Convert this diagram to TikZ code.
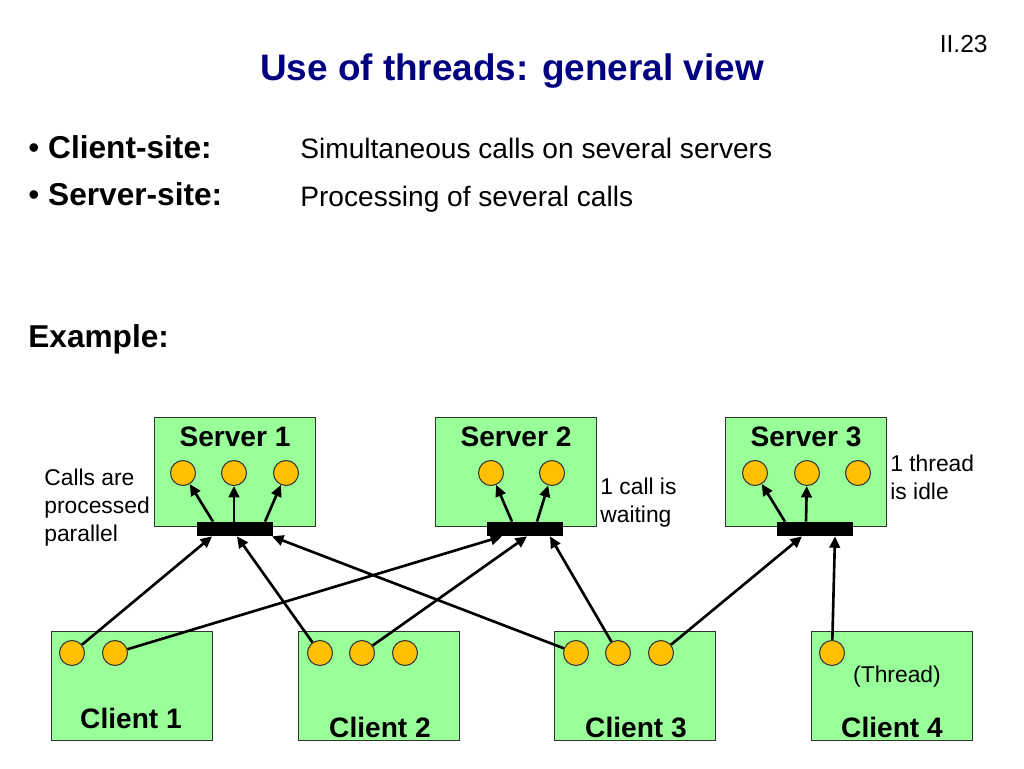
\documentclass[tikz,border=0pt]{standalone}
\usepackage{fontspec}
\setmainfont{Liberation Sans}
\usetikzlibrary{arrows.meta}
\definecolor{boxgreen}{RGB}{153,255,153}
\definecolor{threadgold}{RGB}{255,192,0}
\definecolor{titleblue}{RGB}{0,0,128}
\tikzset{
  box/.style={draw=black!80, fill=boxgreen, line width=0.6pt, minimum width=3.22cm, minimum height=2.18cm, inner sep=0},
  thread/.style={circle, draw=black!80, fill=threadgold, line width=0.6pt, minimum size=0.5cm, inner sep=0},
  bar/.style={fill=black, minimum width=1.52cm, minimum height=0.28cm, inner sep=0},
  call/.style={line width=1.5pt, -{Triangle[length=6.5pt,width=6pt]}},
  boxname/.style={font=\fontsize{16}{19}\selectfont\bfseries},
  note/.style={font=\fontsize{13}{15.9}\selectfont, align=left, anchor=west, inner sep=0},
}
\begin{document}
\begin{tikzpicture}[x=0.02cm, y=-0.02cm]
\useasboundingbox (0,0) rectangle (1024,768);
% header
\node[anchor=base, text=titleblue, font=\fontsize{21}{25}\selectfont\bfseries] (title) at (512,80) {Use of threads: general view};
\node[anchor=base east, inner sep=0, font=\fontsize{14}{17}\selectfont] (page) at (988,52) {II.23};
\node[anchor=base west, inner sep=0, font=\fontsize{18}{22}\selectfont\bfseries] (csite) at (28,158) {{\mdseries •}~Client-site:};
\node[anchor=base west, inner sep=0, font=\fontsize{18}{22}\selectfont\bfseries] (ssite) at (28,205) {{\mdseries •}~Server-site:};
\node[anchor=base west, inner sep=0, font=\fontsize{16}{19}\selectfont] (ctext) at (300,158) {Simultaneous calls on several servers};
\node[anchor=base west, inner sep=0, font=\fontsize{16}{19}\selectfont] (stext) at (300,206) {Processing of several calls};
\node[anchor=base west, inner sep=0, font=\fontsize{18}{22}\selectfont\bfseries] (example) at (28,347) {Example:};

% servers
\node[box] (s1) at (235,472) {};
\node[boxname] (s1n) at (235,437) {Server 1};
\node[thread] (s1a) at (183,473) {};
\node[thread] (s1b) at (234,473) {};
\node[thread] (s1c) at (286,473) {};
\node[bar] (bar1) at (235,529) {};
\draw[call] ([xshift=-0.44cm]bar1.north) -- (s1a);
\draw[call] ([xshift=-0.02cm]bar1.north) -- (s1b);
\draw[call] ([xshift=0.6cm]bar1.north) -- (s1c);

\node[box] (s2) at (516,472) {};
\node[boxname] (s2n) at (516,437) {Server 2};
\node[thread] (s2a) at (491,473) {};
\node[thread] (s2b) at (552,473) {};
\node[bar] (bar2) at (525,529) {};
\draw[call] ([xshift=-0.26cm]bar2.north) -- (s2a);
\draw[call] ([xshift=0.24cm]bar2.north) -- (s2b);

\node[box] (s3) at (806,472) {};
\node[boxname] (s3n) at (806,437) {Server 3};
\node[thread] (s3a) at (755,473) {};
\node[thread] (s3b) at (807,473) {};
\node[thread] (s3c) at (858,473) {};
\node[bar] (bar3) at (815,529) {};
\draw[call] ([xshift=-0.6cm]bar3.north) -- (s3a);
\draw[call] ([xshift=-0.18cm]bar3.north) -- (s3b);

\node[note] (parallel) at (44,508) {Calls are\\processed\\parallel};
\node[note] (waiting) at (600,503) {1 call is\\waiting};
\node[note] (idle) at (890,477) {1 thread\\is idle};

% clients
\node[box] (c1) at (132,686) {};
\node[boxname] (c1n) at (131,718) {Client 1};
\node[thread] (c1a) at (72,653) {};
\node[thread] (c1b) at (115,653) {};

\node[box] (c2) at (379,686) {};
\node[boxname] (c2n) at (380,727) {Client 2};
\node[thread] (c2a) at (320,653) {};
\node[thread] (c2b) at (362,653) {};
\node[thread] (c2c) at (405,653) {};

\node[box] (c3) at (635,686) {};
\node[boxname] (c3n) at (636,727) {Client 3};
\node[thread] (c3a) at (576,653) {};
\node[thread] (c3b) at (618,653) {};
\node[thread] (c3c) at (661,653) {};

\node[box] (c4) at (892,686) {};
\node[boxname] (c4n) at (892,727) {Client 4};
\node[thread] (c4a) at (832,653) {};
\node[note, anchor=center] (thr) at (897,677) {(Thread)};

% calls
\draw[call] (c1a) -- ([xshift=-0.46cm]bar1.south);
\draw[call] (c1b) -- ([xshift=-0.46cm]bar2.south);
\draw[call] (c2a) -- ([xshift=0.04cm]bar1.south);
\draw[call] (c2b) -- ([xshift=0.04cm]bar2.south);
\draw[call] (c3a) -- ([xshift=0.74cm]bar1.south);
\draw[call] (c3b) -- ([xshift=0.5cm]bar2.south);
\draw[call] (c3c) -- ([xshift=-0.26cm]bar3.south);
\draw[call] (c4a) -- ([xshift=0.4cm]bar3.south);
\end{tikzpicture}
\end{document}
